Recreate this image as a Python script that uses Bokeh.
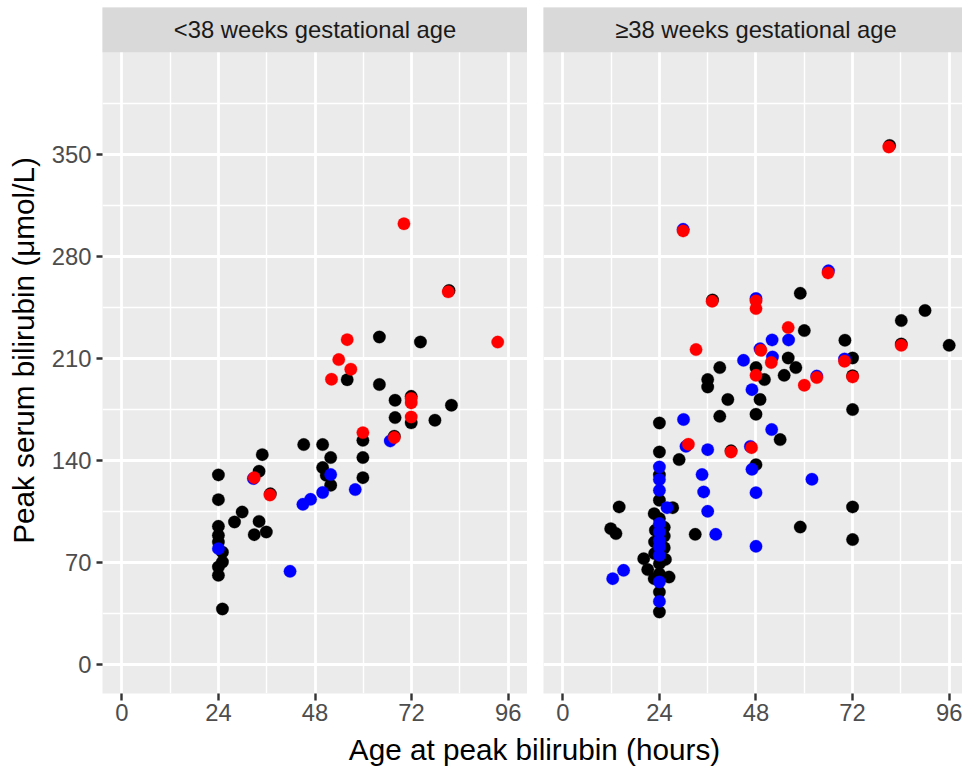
from bokeh.plotting import figure
from bokeh.layouts import row, column
from bokeh.models import FixedTicker, Range1d
from bokeh.embed import file_html
from bokeh.resources import INLINE
from bokeh.core.properties import value

# ---------------- data ----------------
X_TICKS = [0, 24, 48, 72, 96]
X_MINOR = [12, 36, 60, 84]
Y_TICKS = [0, 70, 140, 210, 280, 350]
Y_MINOR = [35, 105, 175, 245, 315, 385]

STRIP_LEFT = "<38 weeks gestational age"
STRIP_RIGHT = "\u226538 weeks gestational age"
X_TITLE = "Age at peak bilirubin (hours)"
Y_TITLE = "Peak serum bilirubin (\u03bcmol/L)"

# <38 weeks panel
left_black_x = [24, 24, 24, 24, 24, 25, 25, 24, 24, 25,
                28, 29.9, 32.9, 34.1, 35.9, 34.1, 34.9,
                45.2, 49.9, 51.9, 49.9, 50.8, 51.9,
                59.9, 59.9, 59.9,
                56, 64, 64, 74.2,
                67.9, 71.9, 81.9, 67.9, 71.9, 77.8, 67.7,
                81.3, 36.9]
left_black_y = [130, 113, 94.7, 88.5, 83.9, 77, 70.2, 66.8, 61.1, 38,
                97.7, 104.5, 89, 98.1, 90.8, 132.5, 143.9,
                150.8, 150.8, 141.9, 135, 129.7, 122.9,
                153.7, 141.9, 128.1,
                195.3, 192, 224.6, 221.2,
                181.2, 183.9, 177.8, 169.3, 165.7, 167.5, 156.5,
                256.5, 117]
left_blue_x = [24, 41.8, 45, 46.9, 49.9, 51.9, 58, 66.7, 32.7]
left_blue_y = [79.4, 63.8, 109.8, 113.2, 117.9, 130.2, 119.9, 153.3, 127.5]
left_red_x = [32.9, 36.8, 52.1, 53.9, 56, 56.9, 59.9, 67.7, 70.1, 71.9, 71.9, 71.9, 81.1, 93.4]
left_red_y = [128.1, 116.2, 195.6, 209.1, 222.8, 202.5, 159, 155.6, 302.3, 182.4, 179.4, 169.7, 255.6, 221.1]

# >=38 weeks panel
right_black_x = [11.9, 13.2, 14, 20.1, 21.1, 22.7, 26.4,
                 24, 24, 24, 24, 24, 22.7, 24, 27.3,
                 25.2, 25.2, 22.8, 25.2, 22.8, 24, 24, 24, 25.5, 23,
                 28.9, 32.9, 41.8,
                 36, 36, 39, 41, 39, 48, 49, 48, 54,
                 48, 50.1, 55, 56, 57.9, 59, 60, 70.1,
                 72, 72, 72, 72, 72, 59, 84.1, 90, 96,
                 84.1, 81.2, 37.2]
right_black_y = [93.1, 89.7, 108, 72.5, 65, 58.8, 59.9,
                 49.6, 35.9, 69.1, 165.6, 145.7, 103.4, 112.6, 107.5,
                 94, 88, 84, 80, 76, 100, 62, 130, 72, 92,
                 140.5, 89.2, 146.5,
                 195.4, 190.3, 203.6, 181.7, 170.2, 171.6, 181.7, 137, 154.2,
                 203.6, 195.4, 198.3, 210.2, 203.6, 254.6, 229, 222.4,
                 210.2, 198, 174.8, 108, 85.6, 94.2, 235.9, 242.8, 218.9,
                 219.8, 356, 250]
right_blue_x = [12.4, 15.1, 24, 24, 24, 25.9, 24, 24, 24, 24, 24, 24, 24,
                30, 30.6, 34.6, 35, 36, 38, 36, 29.9, 44.9, 47, 48, 48, 47, 46.6,
                51.9, 52.1, 52, 56.1, 61.9, 48, 49, 66, 63.1, 70]
right_blue_y = [58.8, 64.5, 135.4, 126.8, 119.4, 107.5, 96.6, 90.8, 85.1, 80.5, 74.8, 56.5, 43.2,
                168, 149.6, 130.2, 118.3, 105, 89.2, 147.3, 298.5, 208.6, 188.5, 117.8, 81, 133.8, 149.5,
                161.1, 210.9, 222.6, 222.6, 127, 251, 216.5, 270, 197.8, 209.5]
right_red_x = [29.9, 31.2, 33.1, 37.1, 41.8, 46.9, 48, 48, 49.2, 51.8, 48,
               56, 60, 63.1, 65.9, 70, 72, 81, 84.1]
right_red_y = [297.4, 151, 216, 249.1, 145.7, 148.7, 249.4, 244.1, 215.5, 207.1, 198.3,
               231.1, 191.5, 196.8, 268.6, 208, 197.2, 355, 218.9]

COLORS = {"black": "#000000", "blue": "#0000FF", "red": "#FF0000"}
FONT = "Liberation Sans"
PX_PER_HOUR = 4.0246


def make_panel(width, min_left, x_end, strip_text, series, show_y):
    p = figure(width=width, height=731,
               x_range=Range1d(-4.8, x_end), y_range=Range1d(-20, 450.7),
               output_backend="svg", toolbar_location=None,
               min_border_left=min_left, min_border_right=0,
               min_border_top=7, min_border_bottom=38)
    p.background_fill_color = "#EBEBEB"
    p.border_fill_color = "white"
    p.outline_line_color = None

    p.xgrid.ticker = FixedTicker(ticks=X_TICKS, minor_ticks=X_MINOR)
    p.ygrid.ticker = FixedTicker(ticks=Y_TICKS, minor_ticks=Y_MINOR)
    for g in (p.xgrid, p.ygrid):
        g.grid_line_color = "white"
        g.grid_line_width = 2.8
        g.minor_grid_line_color = "white"
        g.minor_grid_line_width = 1.4

    p.xaxis.ticker = FixedTicker(ticks=X_TICKS)
    p.yaxis.ticker = FixedTicker(ticks=Y_TICKS)
    for ax in (p.xaxis, p.yaxis):
        ax.axis_line_color = None
        ax.minor_tick_line_color = None
        ax.major_tick_line_color = "#333333"
        ax.major_tick_line_width = 2.4
        ax.major_tick_in = 0
        ax.major_label_text_font = FONT
        ax.major_label_text_font_size = "23.8px"
        ax.major_label_text_color = "#4D4D4D"
    p.xaxis.major_tick_out = 7
    p.xaxis.major_label_standoff = 3
    p.yaxis.major_tick_out = 6
    p.yaxis.major_label_standoff = 5

    if show_y:
        p.yaxis.axis_label = Y_TITLE
        p.yaxis.axis_label_text_font = FONT
        p.yaxis.axis_label_text_font_size = "29.7px"
        p.yaxis.axis_label_text_font_style = "normal"
        p.yaxis.axis_label_text_color = "#000000"
        p.yaxis.axis_label_standoff = 9
    else:
        p.yaxis.visible = False

    # strip
    p.quad(left=[-10], right=[110], bottom=[420], top=[470],
           fill_color="#D9D9D9", line_color=None)
    p.text(x=[48], y=[435.5], text=[strip_text], text_align="center",
           text_baseline="middle", text_font=value(FONT),
           text_font_size="23.8px", text_color="#1A1A1A")

    for name, xs, ys in series:
        c = COLORS[name]
        p.scatter(xs, ys, size=12.5, fill_color=c, line_color=c, line_width=0.3)
    return p


pL = make_panel(527, 102, 100.8, STRIP_LEFT,
                [("black", left_black_x, left_black_y),
                 ("blue", left_blue_x, left_blue_y),
                 ("red", left_red_x, left_red_y)], True)
pR = make_panel(435, 16, -4.8 + 419 / PX_PER_HOUR, STRIP_RIGHT,
                [("black", right_black_x, right_black_y),
                 ("blue", right_blue_x, right_blue_y),
                 ("red", right_red_x, right_red_y)], False)

pT = figure(width=962, height=36, x_range=Range1d(0, 962), y_range=Range1d(0, 36),
            output_backend="svg", toolbar_location=None,
            x_axis_location=None, y_axis_location=None,
            min_border=0)
pT.grid.visible = False
pT.outline_line_color = None
pT.background_fill_color = "white"
pT.text(x=[534], y=[18], text=[X_TITLE], text_align="center", text_baseline="middle",
        text_font=value(FONT), text_font_size="29.7px", text_color="#000000")

layout = column(row(pL, pR), pT)
open("out.html", "w").write(file_html(layout, INLINE))
